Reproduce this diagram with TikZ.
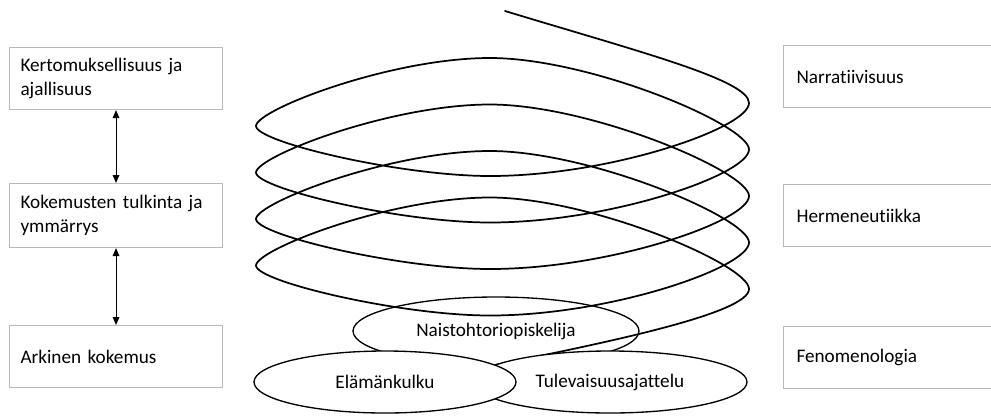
\documentclass[tikz,border=0pt]{standalone}
\usepackage{fontspec}
\setmainfont{Carlito}[Ligatures=NoCommon]
\usetikzlibrary{arrows.meta,shapes.geometric}

\definecolor{reunus}{RGB}{185,185,185}

\begin{document}
\begin{tikzpicture}[x=0.75pt,y=-0.75pt,
        teksti/.style={font=\fontsize{14.4}{17.6}\selectfont},
        laatikko/.style={teksti,draw=reunus,line width=0.8pt,anchor=north west,
            minimum height=46.5pt,align=left,inner xsep=8.25pt},
        vasen/.style={laatikko,text width=143.25pt,minimum width=159.75pt},
        oikea/.style={laatikko,text width=139.5pt,minimum width=159pt,inner xsep=9.75pt},
        soikio/.style={teksti,ellipse,draw,line width=1pt,inner sep=0pt},
        kierre/.style={line width=1.3pt,line join=round,line cap=round},
        nuoli/.style={{Triangle[length=6pt,width=5pt]}-{Triangle[length=6pt,width=5pt]},line width=0.75pt}]

        \useasboundingbox (0,0) rectangle (991,415);

        % Laatikot vasemmalla
        \node[vasen] (kertomus) at (9,47) {Kertomuksellisuus ja\\ajallisuus};
        \node[vasen,minimum height=48pt] (tulkinta) at (9,183) {Kokemusten tulkinta ja\\ymmärrys};
        \node[vasen] (arki) at (9,325) {Arkinen kokemus};

        \draw[nuoli] (kertomus) -- (tulkinta);
        \draw[nuoli] (tulkinta) -- (arki);

        % Laatikot oikealla
        \node[oikea] (narratiivi) at (783,45) {Narratiivisuus};
        \node[oikea] (hermeneutiikka) at (783,184) {Hermeneutiikka};
        \node[oikea] (fenomeno) at (783,326) {Fenomenologia};

        % Ylin soikio
        \node[soikio,minimum width=214.5pt,minimum height=51pt] (naisto) at (496,331) {Naistohtoriopiskelija};

        % Kierre
        \draw[kierre] (505,11) .. controls (640,52) and (749,80) .. (749,103)
            \foreach \k in {0,...,3} {
                .. controls (749,128+46.5*\k) and (610,176+46.5*\k) .. (490,176+46.5*\k)
                .. controls (400,176+46.5*\k) and (256,142+46.5*\k) .. (256,126+46.5*\k)
                .. controls (256,110+46.5*\k) and (390,58+46.5*\k) .. (490,58+46.5*\k)
                .. controls (590,58+46.5*\k) and (749,125+46.5*\k) .. (749,149.5+46.5*\k)
            }
            .. controls (749,313) and (610,342) .. (490,366);

        % Alimmat soikiot
        \node[soikio,fill=white,minimum width=205.5pt,minimum height=46.5pt] (tulevaisuus) at (610,382) {Tulevaisuusajattelu};
        \node[soikio,fill=white,minimum width=196.5pt,minimum height=46.5pt] (elama) at (385,382) {Elämänkulku};
    \end{tikzpicture}
\end{document}
